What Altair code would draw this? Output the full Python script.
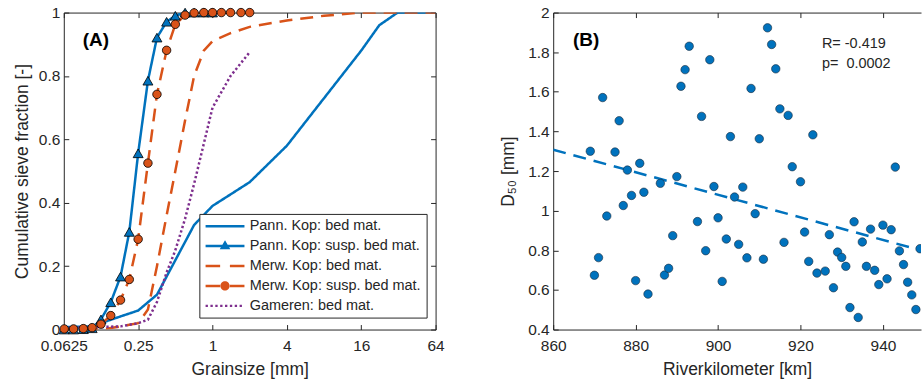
import altair as alt
import pandas as pd

FONT = "Liberation Sans, Arial, Helvetica, sans-serif"
INK = "#262626"

# ---------------- Panel A data ----------------
series_names = [
    "Pann. Kop: bed mat.",
    "Pann. Kop: susp. bed mat.",
    "Merw. Kop: bed mat.",
    "Merw. Kop: susp. bed mat.",
    "Gameren: bed mat.",
]
series_colors = ["#0072BD", "#0072BD", "#D95319", "#D95319", "#7E2F8E"]
series_dash = [[1, 0], [1, 0], [13, 8], [13, 8], [2.3, 2.4]]

pann_bed_size = [0.063, 0.106, 0.15, 0.25, 0.355, 0.71, 1.0, 2.0, 4.0, 8.0, 16.0, 22.4, 31.5, 64.0]
pann_bed_frac = [0.008, 0.01, 0.031, 0.06, 0.11, 0.33, 0.39, 0.465, 0.58, 0.73, 0.88, 0.96, 1.0, 1.0]

pann_susp_size = [0.063, 0.075, 0.09, 0.106, 0.125, 0.15, 0.18, 0.212, 0.25, 0.3, 0.355,
                  0.425, 0.5, 0.6, 0.71, 0.85, 1.0]
pann_susp_frac = [0.0, 0.0, 0.001, 0.004, 0.032, 0.086, 0.167, 0.308, 0.556, 0.785, 0.921,
                  0.971, 0.99, 1.0, 1.0, 1.0, 1.0]

merw_bed_size = [0.063, 0.125, 0.18, 0.25, 0.3, 0.355, 0.425, 0.5, 0.6, 0.71, 0.85, 1.0,
                 1.4, 2.0, 4.0, 8.0, 16.0, 64.0]
merw_bed_frac = [0.0, 0.0, 0.01, 0.02, 0.063, 0.2, 0.36, 0.5, 0.66, 0.8, 0.88, 0.91,
                 0.935, 0.955, 0.975, 0.99, 1.0, 1.0]

merw_susp_size = [0.063, 0.075, 0.09, 0.106, 0.125, 0.15, 0.18, 0.212, 0.25, 0.3, 0.355,
                  0.425, 0.5, 0.6, 0.71, 0.85, 1.0, 1.18, 1.4, 1.7, 2.0]
merw_susp_frac = [0.002, 0.002, 0.003, 0.006, 0.017, 0.044, 0.093, 0.158, 0.285, 0.525, 0.742,
                  0.881, 0.963, 0.992, 0.999, 1.0, 1.0, 1.0, 1.0, 1.0, 1.0]

gameren_size = [0.063, 0.125, 0.18, 0.25, 0.3, 0.355, 0.425, 0.5, 0.6, 0.71, 1.0, 1.4, 2.0]
gameren_frac = [0.006, 0.008, 0.01, 0.02, 0.031, 0.087, 0.18, 0.25, 0.35, 0.46, 0.70, 0.80, 0.875]

xA_ticks = [0.0625, 0.25, 1, 4, 16, 64]
yA_ticks = [0, 0.2, 0.4, 0.6, 0.8, 1]

annA_text = ["(A)"]
annA_x = [0.089]
annA_y = [0.913]

# ---------------- Panel B data ----------------
river_km = [869, 870, 871, 872, 873, 875, 876, 877, 878, 879, 880, 881, 882, 883, 886, 887,
            888, 889, 890, 891, 892, 893, 895, 896, 897, 898, 899, 900, 901, 902, 903, 904,
            905, 906, 907, 908, 909, 910, 911, 912, 913, 914, 915, 916, 917, 918, 920, 921,
            922, 923, 924, 926, 927, 928, 929, 930, 931, 932, 933, 934, 935, 936, 937, 938,
            939, 940, 941, 942, 943, 944, 945, 946, 947, 948, 949]
d50_mm = [1.30, 0.674, 0.763, 1.571, 0.973, 1.296, 1.454, 1.026, 1.205, 1.077, 0.647, 1.239,
          1.093, 0.579, 1.138, 0.675, 0.709, 0.874, 1.172, 1.628, 1.712, 1.830, 0.945, 1.476,
          0.798, 1.762, 1.122, 0.964, 0.643, 0.857, 1.374, 1.069, 0.830, 1.119, 0.762, 1.617,
          0.985, 1.363, 0.755, 1.923, 1.839, 1.716, 1.514, 0.840, 1.481, 1.222, 1.146, 0.892,
          0.744, 1.383, 0.685, 0.695, 0.879, 0.611, 0.791, 0.764, 0.719, 0.511, 0.944, 0.461,
          0.842, 0.719, 0.907, 0.699, 0.627, 0.927, 0.656, 0.904, 1.220, 0.797, 0.728, 0.639,
          0.575, 0.501, 0.808]

trend_km = [860, 949.2]
trend_d50 = [1.308, 0.800]

xB_ticks = [860, 880, 900, 920, 940]
yB_ticks = [0.4, 0.6, 0.8, 1.0, 1.2, 1.4, 1.6, 1.8, 2.0]

annB_text = ["(B)"]
annB_x = [864.8]
annB_y = [1.859]
stat_text = ["R= -0.419", "p=\u00a0 0.0002"]
stat_x = [925.2, 925.2]
stat_y = [1.842, 1.741]


# ---------------- legend glyphs (style only) ----------------
# symbol box is 12 px (size 144) -> 6 px per path unit; glyph drawn 39 px wide
U = 6.0
SYM = 144
LEFT = -1.0              # glyph left edge in units (entry-left in px = 0)
WIDE = 39.0 / U          # glyph width in units
HALF = 1.25 / U          # half line thickness


def _rect(x0, x1, h):
    return f"M{x0:.3f},{-h:.3f}H{x1:.3f}V{h:.3f}H{x0:.3f}Z"


def _glyph(kind, marker):
    parts = []
    if kind == "solid":
        parts.append(_rect(LEFT, LEFT + WIDE, HALF))
    elif kind == "dash":
        d = 14.6 / U
        parts.append(_rect(LEFT, LEFT + d, HALF))
        parts.append(_rect(LEFT + WIDE - d, LEFT + WIDE, HALF))
    elif kind == "dot":
        step, w, h = 4.875 / U, 2.34 / U, 1.17 / U
        for k in range(8):
            x0 = LEFT + k * step
            parts.append(_rect(x0, x0 + w, h))
    cx = LEFT + WIDE / 2
    if marker == "tri":
        r, top, bot = 5.3 / U, -5.8 / U, 3.3 / U
        parts.append(f"M{cx:.3f},{top:.3f}L{cx + r:.3f},{bot:.3f}L{cx - r:.3f},{bot:.3f}Z")
    elif marker == "circ":
        r = 4.6 / U
        parts.append(
            f"M{cx + r:.3f},0A{r:.3f},{r:.3f} 0 1,1 {cx - r:.3f},0"
            f"A{r:.3f},{r:.3f} 0 1,1 {cx + r:.3f},0Z"
        )
    return " ".join(parts)


legend_paths = [
    _glyph("solid", None),
    _glyph("solid", "tri"),
    _glyph("dash", None),
    _glyph("dash", "circ"),
    _glyph("dot", None),
]

# ---------------- tables ----------------
rows = []
for name, sizes, fracs in zip(
    series_names,
    [pann_bed_size, pann_susp_size, merw_bed_size, merw_susp_size, gameren_size],
    [pann_bed_frac, pann_susp_frac, merw_bed_frac, merw_susp_frac, gameren_frac],
):
    for s, f in zip(sizes, fracs):
        rows.append({"series": name, "size": s, "frac": f})
curves = pd.DataFrame(rows)
legend_df = pd.DataFrame({"series": series_names})
annA = pd.DataFrame({"t": annA_text, "x": annA_x, "y": annA_y})
d50_df = pd.DataFrame({"km": river_km, "d50": d50_mm})
trend_df = pd.DataFrame({"km": trend_km, "d50": trend_d50})
annB = pd.DataFrame({"t": annB_text, "x": annB_x, "y": annB_y})
stat_df = pd.DataFrame({"t": stat_text, "x": stat_x, "y": stat_y})

# ---------------- styling helpers ----------------
TICK_IN = {"expr": "-5"}


def main_axis(orient, values, title, pad, tpad):
    return alt.Axis(
        orient=orient, values=values, title=title, format="~r", grid=False,
        labelFlush=False, labelOverlap=False,
        tickSize=TICK_IN, labelPadding=pad, titlePadding=tpad,
        domainColor=INK, tickColor=INK, labelColor=INK, titleColor=INK,
        labelFont=FONT, titleFont=FONT, labelFontSize=15.5, titleFontSize=17.5,
        titleFontWeight="normal", domainWidth=1, tickWidth=1,
    )


def mirror_axis(orient, values):
    return alt.Axis(
        orient=orient, values=values, title=None, labels=False, grid=False,
        tickSize=TICK_IN, domainColor=INK, tickColor=INK, domainWidth=1, tickWidth=1,
    )


# ---------------- Panel A ----------------
xA = alt.Scale(type="log", base=2, domain=[0.0625, 64], nice=False)
yA = alt.Scale(domain=[0, 1], nice=False, zero=False)
color_scale = alt.Scale(domain=series_names, range=series_colors)

lines = alt.Chart(curves).mark_line(strokeWidth=2.5, clip=True).encode(
    x=alt.X("size:Q", scale=xA, axis=main_axis("bottom", xA_ticks, "Grainsize [mm]", 14, 7)),
    y=alt.Y("frac:Q", scale=yA,
            axis=main_axis("left", yA_ticks, "Cumulative sieve fraction [-]", 9, 7)),
    color=alt.Color("series:N", scale=color_scale, legend=None),
    strokeDash=alt.StrokeDash("series:N",
                              scale=alt.Scale(domain=series_names, range=series_dash),
                              legend=None),
)

tri = alt.Chart(curves).transform_filter(
    alt.datum.series == series_names[1]
).mark_point(shape="triangle-up", filled=True, size=100, stroke="black",
             strokeWidth=0.8, opacity=1).encode(
    x=alt.X("size:Q", scale=xA, axis=mirror_axis("top", xA_ticks)),
    y=alt.Y("frac:Q", scale=yA, axis=mirror_axis("right", yA_ticks)),
    color=alt.Color("series:N", scale=color_scale, legend=None),
)

circ = alt.Chart(curves).transform_filter(
    alt.datum.series == series_names[3]
).mark_point(shape="circle", filled=True, size=72, stroke="black",
             strokeWidth=0.8, opacity=1).encode(
    x=alt.X("size:Q", scale=xA, axis=None),
    y=alt.Y("frac:Q", scale=yA, axis=None),
    color=alt.Color("series:N", scale=color_scale, legend=None),
)

leg = alt.Legend(
    title=None, orient="none", legendX=136, legendY=202,
    symbolSize=SYM, symbolStrokeWidth=0, symbolOpacity=1,
    labelFont=FONT, labelFontSize=14.5, labelColor=INK, labelLimit=400,
    labelOffset=31, padding=5, rowPadding=5,
    strokeColor=INK, fillColor="white",
)

legend_layer = alt.Chart(legend_df).mark_point(filled=True, opacity=0).encode(
    color=alt.Color("series:N", scale=color_scale, legend=leg),
    shape=alt.Shape("series:N", scale=alt.Scale(domain=series_names, range=legend_paths),
                    legend=leg),
)

labA = alt.Chart(annA).mark_text(
    align="left", baseline="middle", font=FONT, fontSize=19, fontWeight="bold", color="black"
).encode(
    x=alt.X("x:Q", scale=xA, axis=None),
    y=alt.Y("y:Q", scale=yA, axis=None),
    text="t:N",
)

panelA = alt.layer(lines, tri, circ, legend_layer, labA).properties(
    width=373, height=318
).resolve_axis(x="independent", y="independent").resolve_legend(
    color="independent", shape="independent", strokeDash="independent"
)

# ---------------- Panel B ----------------
xB = alt.Scale(domain=[860, 949.24], nice=False, zero=False)
yB = alt.Scale(domain=[0.4, 2], nice=False, zero=False)

trend = alt.Chart(trend_df).mark_line(
    color="#0072BD", strokeWidth=2.5, strokeDash=[13, 8], clip=True
).encode(
    x=alt.X("km:Q", scale=xB,
            axis=main_axis("bottom", xB_ticks, "Riverkilometer [km]", 14, 7)),
    y=alt.Y("d50:Q", scale=yB, axis=main_axis("left", yB_ticks, "D\u2085\u2080 [mm]", 9, 10)),
)

pts = alt.Chart(d50_df).mark_point(
    filled=True, fill="#0072BD", size=72, stroke="#1a2a3a", strokeWidth=0.6,
    opacity=1, clip=True
).encode(
    x=alt.X("km:Q", scale=xB, axis=mirror_axis("top", xB_ticks)),
    y=alt.Y("d50:Q", scale=yB, axis=None),
)

labB = alt.Chart(annB).mark_text(
    align="left", baseline="middle", font=FONT, fontSize=19, fontWeight="bold", color="black"
).encode(
    x=alt.X("x:Q", scale=xB, axis=None),
    y=alt.Y("y:Q", scale=yB, axis=None),
    text="t:N",
)

stats = alt.Chart(stat_df).mark_text(
    align="left", baseline="middle", font=FONT, fontSize=14.5, color=INK
).encode(
    x=alt.X("x:Q", scale=xB, axis=None),
    y=alt.Y("y:Q", scale=yB, axis=None),
    text="t:N",
)

panelB = alt.layer(trend, pts, labB, stats).properties(
    width=369, height=318
).resolve_axis(x="independent", y="independent")

chart = alt.hconcat(panelA, panelB, spacing=118, bounds="flush").properties(
    padding={"left": 12, "top": 4, "right": 0, "bottom": 0},
    background="white",
).configure_view(stroke="transparent")

chart.save("out.html", embed_options={"renderer": "svg", "actions": False})
